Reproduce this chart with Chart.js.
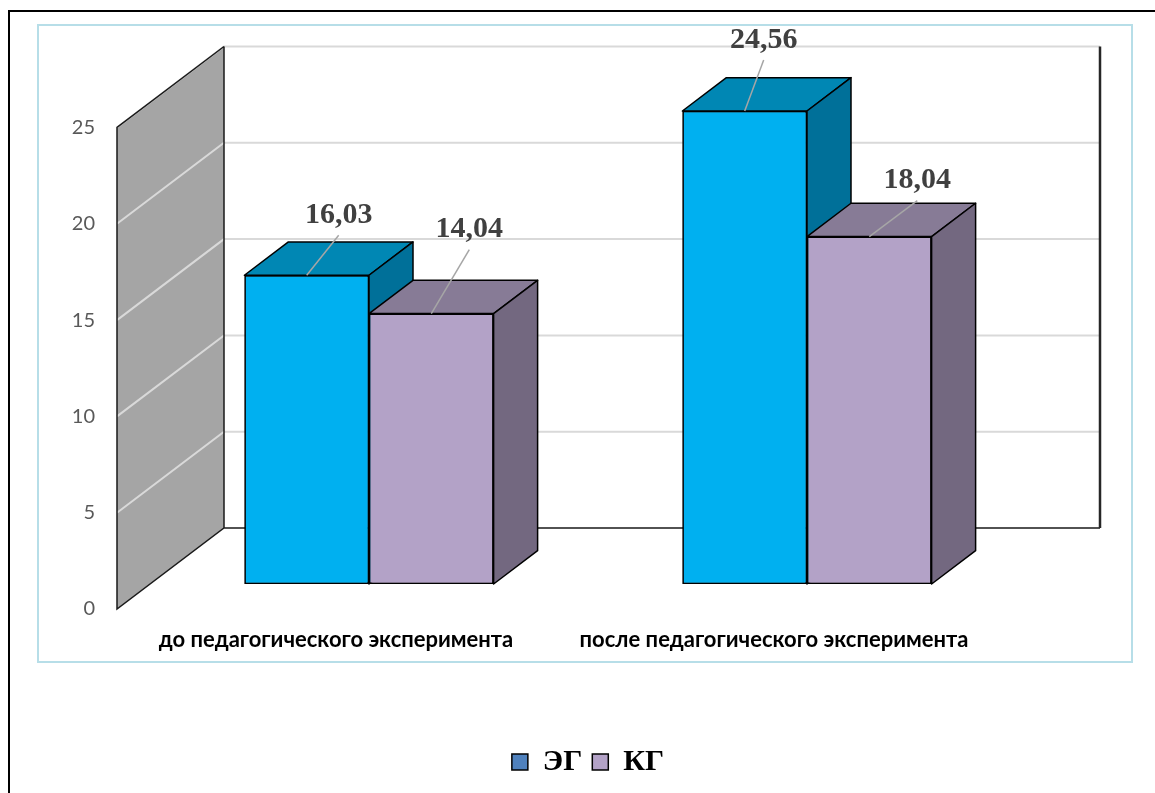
<!DOCTYPE html>
<html lang="ru">
<head>
<meta charset="utf-8">
<script src="https://cdn.jsdelivr.net/npm/chart.js@4.4.0/dist/chart.umd.min.js"></script>
<style>
  html, body { margin: 0; padding: 0; background: #fff; }
  #wrap { position: relative; width: 1155px; height: 793px; }
</style>
</head>
<body>
<div id="wrap"><canvas id="chartEksperiment"></canvas></div>
<script>
console.log("Funciona el script de graficos ")

// Datos
const categorias = ['до педагогического эксперимента', 'после педагогического эксперимента'];
const seriesNombres = ['ЭГ', 'КГ'];
const valoresEG = [16.03, 24.56];
const valoresKG = [14.04, 18.04];
const ejeY = { min: 0, max: 25, paso: 5 };

// Colores: frente, tapa, lateral
const colores = [
   { frente: '#00b0f0', tapa: '#0087b4', lado: '#007099', leyenda: '#4f81bd' },
   { frente: '#b3a2c7', tapa: '#877b96', lado: '#736880', leyenda: '#b3a2c7' }
];

// Profundidad del efecto 3D (px en x; y = -x * k)
const PROF = { frente: -33, fondo: 74, barra: 44, k: 0.757 };

// Posicion de las etiquetas respecto a la tapa de cada barra
const desplEtiquetas = [
   [[32, -60], [19, -71]],
   [[38, -84], [48, -56]]
];

const fmt = v => v.toFixed(2).replace('.', ',');
const fuenteSans = 'Lato, "Open Sans", "Noto Sans", sans-serif';
const fuenteSerif = '"Liberation Serif", "Times New Roman", serif';

function poligono(ctx, pts, relleno) {
   ctx.beginPath();
   pts.forEach((p, i) => i ? ctx.lineTo(p[0], p[1]) : ctx.moveTo(p[0], p[1]));
   ctx.closePath();
   ctx.fillStyle = relleno;
   ctx.fill();
   ctx.stroke();
}

// Marco exterior y borde del area del grafico
const marco = {
   id: 'marco',
   beforeDraw(chart) {
      const { ctx, width, height } = chart;
      ctx.save();
      ctx.fillStyle = '#fff';
      ctx.fillRect(0, 0, width, height);
      ctx.strokeStyle = '#000';
      ctx.lineWidth = 2;
      ctx.beginPath();
      ctx.moveTo(9, height);
      ctx.lineTo(9, 11);
      ctx.lineTo(width, 11);
      ctx.stroke();
      ctx.strokeStyle = '#b7dee8';
      ctx.strokeRect(38, 25, 1094, 637);
      ctx.restore();
   }
};

// Pared lateral, pared del fondo y cuadricula
const paredes = {
   id: 'paredes',
   beforeDatasetsDraw(chart) {
      const { ctx, chartArea: a, scales: { y } } = chart;
      const yF = v => y.getPixelForValue(v) - PROF.frente * PROF.k;
      const yB = v => y.getPixelForValue(v) - PROF.fondo * PROF.k;
      const xF = a.left + PROF.frente, xB = a.left + PROF.fondo, xR = a.right + PROF.fondo;
      ctx.save();
      ctx.beginPath();
      ctx.moveTo(xF, yF(y.max));
      ctx.lineTo(xB, yB(y.max));
      ctx.lineTo(xB, yB(y.min));
      ctx.lineTo(xF, yF(y.min));
      ctx.closePath();
      ctx.fillStyle = '#a5a5a5';
      ctx.fill();

      ctx.strokeStyle = '#d9d9d9';
      ctx.lineWidth = 2;
      y.ticks.forEach(t => {
         if (t.value === y.min) return;
         ctx.beginPath();
         ctx.moveTo(xF, yF(t.value));
         ctx.lineTo(xB, yB(t.value));
         ctx.lineTo(xR, yB(t.value));
         ctx.stroke();
      });

      ctx.strokeStyle = '#1a1a1a';
      ctx.lineWidth = 1.5;
      ctx.beginPath();
      ctx.moveTo(xB, yB(y.max));
      ctx.lineTo(xF, yF(y.max));
      ctx.lineTo(xF, yF(y.min));
      ctx.lineTo(xB, yB(y.min));
      ctx.lineTo(xR, yB(y.min));
      ctx.moveTo(xB, yB(y.max));
      ctx.lineTo(xB, yB(y.min));
      ctx.stroke();
      ctx.lineWidth = 2.5;
      ctx.strokeStyle = '#262626';
      ctx.beginPath();
      ctx.moveTo(xR, yB(y.min));
      ctx.lineTo(xR, yB(y.max));
      ctx.stroke();
      ctx.restore();
   }
};

// Barras en orden de serie: frente (elemento de Chart.js), tapa y lateral
const cajas = {
   id: 'cajas',
   afterDatasetsDraw(chart) {
      const { ctx } = chart;
      const dx = PROF.barra, dy = -PROF.barra * PROF.k;
      chart.data.datasets.forEach((ds, i) => {
         const c = colores[i];
         chart.getDatasetMeta(i).data.forEach(bar => {
            bar.draw(ctx);
            const { x, y, base, width } = bar.getProps(['x', 'y', 'base', 'width'], true);
            const l = x - width / 2, r = x + width / 2;
            ctx.save();
            ctx.lineWidth = 1.5;
            ctx.strokeStyle = '#000';
            ctx.lineJoin = 'round';
            poligono(ctx, [[l, y], [r, y], [r + dx, y + dy], [l + dx, y + dy]], c.tapa);
            poligono(ctx, [[r, y], [r + dx, y + dy], [r + dx, base + dy], [r, base]], c.lado);
            ctx.restore();
         });
      });
   }
};

// Etiquetas de valor con linea guia
const etiquetas = {
   id: 'etiquetas',
   afterDatasetsDraw(chart) {
      const { ctx } = chart;
      ctx.save();
      ctx.font = 'bold 30px ' + fuenteSerif;
      ctx.textAlign = 'center';
      ctx.textBaseline = 'middle';
      chart.data.datasets.forEach((ds, i) => {
         chart.getDatasetMeta(i).data.forEach((bar, j) => {
            const { x, y } = bar.getProps(['x', 'y'], true);
            const tx = x + desplEtiquetas[i][j][0];
            const ty = y + desplEtiquetas[i][j][1];
            ctx.strokeStyle = '#a6a6a6';
            ctx.lineWidth = 1.5;
            ctx.beginPath();
            ctx.moveTo(tx, ty + 20);
            ctx.lineTo(x, y);
            ctx.stroke();
            ctx.fillStyle = '#404040';
            ctx.fillText(fmt(ds.data[j]), tx, ty);
         });
      });
      ctx.restore();
   }
};

const ctx = document.getElementById('chartEksperiment').getContext('2d');
new Chart(ctx, {
   type: 'bar',
   data: {
      labels: categorias,
      datasets: [
         {
            label: seriesNombres[0],
            data: valoresEG,
            backgroundColor: colores[0].frente,
            borderColor: '#000',
            borderWidth: 1.5,
            borderSkipped: false
         },
         {
            label: seriesNombres[1],
            data: valoresKG,
            backgroundColor: colores[1].frente,
            borderColor: '#000',
            borderWidth: 1.5,
            borderSkipped: false
         }
      ]
   },
   options: {
      responsive: true,
      maintainAspectRatio: false,
      animation: false,
      devicePixelRatio: 1,
      categoryPercentage: 0.569,
      barPercentage: 1,
      layout: { padding: { left: 10, right: 129, top: 102.5, bottom: 6 } },
      plugins: {
         tooltip: { enabled: false },
         legend: {
            position: 'bottom',
            fullSize: false,
            labels: {
               boxWidth: 16,
               boxHeight: 16,
               padding: 10,
               color: '#000',
               font: { family: fuenteSerif, size: 30, weight: 'bold' },
               generateLabels: chart => chart.data.datasets.map((ds, i) => ({
                  text: ds.label,
                  fillStyle: colores[i].leyenda,
                  strokeStyle: '#000',
                  lineWidth: 1.5,
                  fontColor: '#000',
                  hidden: false,
                  datasetIndex: i
               }))
            }
         }
      },
      scales: {
         x: {
            grid: { display: false, drawTicks: false },
            border: { display: false },
            ticks: {
               padding: 43,
               labelOffset: PROF.frente,
               maxRotation: 0,
               autoSkip: false,
               color: '#000',
               font: { family: fuenteSans, size: 22, weight: 'bold' }
            },
            afterFit: s => { s.height = 153; }
         },
         y: {
            min: ejeY.min,
            max: ejeY.max,
            grid: { display: false, drawTicks: false },
            border: { display: false },
            ticks: {
               stepSize: ejeY.paso,
               padding: 55,
               labelOffset: -PROF.frente * PROF.k,
               color: '#595959',
               font: { family: fuenteSans, size: 20 }
            },
            afterFit: s => { s.width = 140; }
         }
      }
   },
   plugins: [marco, paredes, cajas, etiquetas]
});
</script>
</body>
</html>
